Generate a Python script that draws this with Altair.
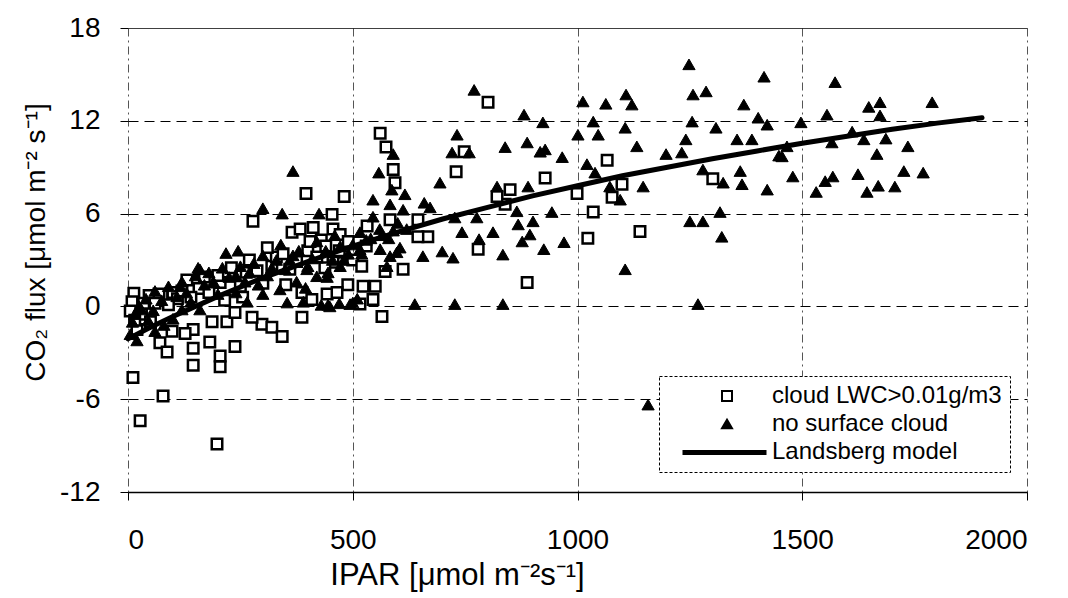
import altair as alt
import pandas as pd

S_NAME = "cloud LWC>0.01g/m3"
T_NAME = "no surface cloud"
L_NAME = "Landsberg model"

# (IPAR, CO2 flux)
cloud_points = [
    (396, 7.3), (278, 5.5), (454, 5.95), (365, 4.8), (383, 5.0), (412, 5.1), (400, 3.6), (456, 5.0),
    (351, 1.4), (387, 0.9), (409, 0.45), (443, 0.8), (263, 2.2), (287, 2.3), (205, 1.55), (131, 1.7),
    (158, 1.15), (13, 0.85), (47, 0.7), (76, 0.7), (9, 0.3), (145, -1.5), (127, -1.75), (145, -2.7),
    (145, -3.8), (182, -2.3), (187, -1.0), (220, -1.0), (205, -3.2), (205, -3.9), (238, -2.6),
    (298, -1.15), (320, -1.35), (343, -1.95), (238, -0.4), (276, -0.7), (71, -2.35), (87, -2.95),
    (98, -1.6), (11, -4.6), (387, -0.7), (78, -5.8), (27, -7.4), (198, -8.9), (69, 0.8), (100, 0.9),
    (561, 11.2), (574, 10.3), (590, 8.85), (594, 8.0), (748, 10.0), (730, 8.7), (481, 7.1), (928, 8.3),
    (850, 7.55), (839, 6.6), (821, 7.1), (779, 3.7), (888, 1.55), (565, -0.65), (532, 5.2), (667, 4.5),
    (645, 4.5), (612, 2.4), (572, 2.25), (489, 1.4), (523, 1.3), (550, 1.3), (465, 0.9), (545, 0.45),
    (516, 0.15), (456, 2.85), (583, 5.6), (645, 5.6), (472, 4.65), (438, 2.5),
    (1066, 9.45), (999, 7.3), (1077, 7.05), (1099, 7.9), (1301, 8.25), (1035, 6.1), (1139, 4.85),
    (1023, 4.4), (801, 13.2),
    (30, -0.5), (20, -1.5), (50, -1.0), (60, 0.2), (110, 0.5), (120, 1.0), (170, 1.9), (200, 2.0),
    (230, 2.5), (250, 1.3), (300, 1.5), (320, 2.6), (330, 3.2), (360, 2.4), (420, 3.2), (480, 3.5),
    (500, 3.0), (520, 2.6), (430, 4.3), (470, 3.6),
    (5, -0.3), (15, -0.9), (35, 0.2), (90, 0.1), (140, 0.6), (180, 0.9), (215, 0.4), (255, 0.6),
    (270, 3.0), (310, 3.8), (345, 3.4), (375, 2.9), (405, 4.2), (440, 3.9), (490, 4.2), (530, 3.9),
]

clear_points = [
    (1573, 14.5), (1555, 12.4), (1497, 11.9), (1648, 12.9), (1673, 13.2), (1673, 12.35), (1789, 13.2),
    (1566, 10.6), (1637, 10.8), (1686, 10.85), (1611, 11.3), (1735, 10.35), (1666, 9.85), (1479, 8.4),
    (1551, 8.1), (1568, 8.4), (1531, 7.4), (1624, 8.55), (1644, 7.4), (1669, 7.8), (1706, 7.75),
    (1726, 8.75), (1769, 8.65), (1455, 9.7), (1466, 10.35),
    (1248, 15.65), (1415, 14.85), (1257, 13.7), (1286, 13.9), (1370, 13.05), (1012, 13.25), (1063, 13.1),
    (1108, 13.7), (1121, 13.05), (923, 11.9), (1035, 11.95), (1001, 11.1), (1046, 11.1), (1106, 11.55),
    (1255, 11.95), (1308, 11.55), (1402, 12.2), (1422, 11.75),
    (1132, 10.35), (1241, 10.8), (1197, 9.85), (1232, 9.95), (1355, 10.8), (1388, 10.8), (1448, 9.75),
    (966, 9.65), (928, 10.15), (1021, 9.2), (1039, 8.65), (1279, 8.85), (1362, 8.75), (1366, 7.9),
    (1324, 8.0), (1422, 7.55), (1146, 7.75), (1072, 7.75), (1095, 6.9), (943, 6.1), (1317, 6.1),
    (1250, 5.5), (1279, 5.5), (1321, 4.5), (970, 4.15), (925, 3.7), (1106, 2.4), (1268, 0.15),
    (732, 11.1), (721, 9.95), (759, 9.95), (839, 10.3), (888, 10.6), (917, 10.0),
    (590, 9.85), (558, 8.65), (694, 8.0), (821, 7.75), (890, 7.75), (587, 7.55), (616, 7.25), (545, 6.9),
    (659, 6.7), (672, 6.4), (612, 6.25), (865, 6.15), (868, 5.3), (901, 5.5), (727, 5.75), (776, 5.75),
    (743, 4.8), (812, 4.8), (781, 4.35), (894, 4.65), (877, 4.2), (699, 3.55), (723, 3.15), (656, 3.25),
    (834, 3.35), (638, 0.15), (727, 0.15), (834, 0.15), (494, 0.15), (583, 3.25), (576, 2.6),
    (300, 6.35), (343, 6.0), (425, 6.0), (218, 3.45), (245, 3.6), (300, 3.3), (340, 4.0), (367, 3.3),
    (156, 2.5), (109, 0.65), (56, -0.25), (398, 2.4), (420, 1.95), (445, 2.2), (449, 0.0), (354, 0.25),
    (338, 1.1), (367, 8.75), (770, 14.0), (881, 12.4), (1157, -6.35),
    (583, 6.6), (545, 5.8), (516, 4.8), (472, 3.9), (516, 3.7), (561, 3.7), (443, 1.9), (472, 2.6),
    (445, 0.1), (500, 0.25), (598, 3.5), (160, 2.4), (116, 1.3),
    (10, -1.0), (30, -0.2), (40, 0.5), (60, 1.0), (90, 1.3), (120, 1.6), (150, 2.0), (180, 2.2),
    (210, 2.5), (240, 2.0), (260, 1.6), (280, 2.8), (310, 2.0), (330, 3.0), (350, 2.4), (380, 3.6),
    (400, 2.6), (420, 4.2), (440, 3.6), (460, 4.6), (480, 3.0), (500, 4.0), (520, 3.4), (540, 4.4),
    (560, 5.0), (580, 4.4), (600, 5.4), (620, 5.0), (510, 0.5), (470, 0.2), (430, 0.1), (390, 0.3),
    (300, 0.8), (200, 0.8), (140, 0.3), (20, -2.2), (60, -1.6), (100, -0.8), (160, -0.2),
    (5, -1.8), (15, -0.5), (25, 0.0), (45, -0.9), (75, 0.4), (80, -1.2), (130, 0.9), (170, 1.4),
    (190, 1.6), (225, 1.9), (250, 2.6), (270, 2.2), (290, 1.4), (320, 2.5), (360, 3.0), (375, 1.6),
    (410, 3.1), (455, 3.0), (490, 3.4), (530, 4.3), (565, 4.6), (590, 4.9), (605, 3.8), (395, 1.2),
    (240, 0.9), (265, 0.3), (120, -0.2),
]

model_x = [0, 50, 100, 200, 300, 400, 500, 600, 700, 800, 900, 1000, 1100, 1200, 1300, 1400, 1500,
           1600, 1700, 1800, 1900]
model_y = [-2.1, -1.35, -0.65, 0.65, 1.85, 2.9, 3.9, 4.8, 5.65, 6.4, 7.15, 7.8, 8.45, 9.0, 9.55,
           10.05, 10.55, 11.0, 11.45, 11.85, 12.2]

x_ticks = [0, 500, 1000, 1500, 2000]
y_ticks = [-12, -6, 0, 6, 12, 18]

FONT = "Liberation Sans"

pts = pd.DataFrame(
    [{"ipar": x, "flux": y, "series": S_NAME} for x, y in cloud_points]
    + [{"ipar": x, "flux": y, "series": T_NAME} for x, y in clear_points]
)
model = pd.DataFrame({"ipar": model_x, "flux": model_y, "series": L_NAME})

domain = [S_NAME, T_NAME, L_NAME]

leg = alt.Legend(
    title=None,
    orient="none",
    legendX=531,
    legendY=348,
    padding=8,
    fillColor="white",
    strokeColor="black",
    labelFont=FONT,
    labelFontSize=24,
    labelColor="black",
    labelOffset=33,
    labelLimit=600,
    rowPadding=4,
    symbolOffset=48,
    symbolSize=100,
    symbolStrokeWidth=2,
)

line_leg = alt.Legend(
    title=None,
    orient="none",
    legendX=552,
    legendY=380,
    padding=0,
    strokeColor="transparent",
    fillColor="transparent",
    labelOpacity=0,
    labelFontSize=2,
    labelOffset=0,
    symbolType="stroke",
    symbolSize=7056,
    symbolStrokeWidth=5,
    symbolStrokeColor="black",
)

x_enc = alt.X(
    "ipar:Q",
    scale=alt.Scale(domain=[0, 2000], nice=False),
    axis=alt.Axis(
        values=x_ticks,
        title="IPAR [μmol m⁻²s⁻¹]",
        labelExpr="'' + datum.value",
        labelFont=FONT, labelFontSize=28, labelColor="black", labelPadding=26,
        tickSize=8, tickColor="black",
        domain=True, domainColor="black", domainWidth=1.5,
        grid=True, gridDash=[8, 4, 2, 4], gridColor="#555555", gridWidth=1,
        titleFont=FONT, titleFontSize=31, titleFontWeight="normal", titleColor="black",
        titleX=329, titleY=92, titleAlign="center", titleBaseline="alphabetic",
    ),
)
y_enc = alt.Y(
    "flux:Q",
    scale=alt.Scale(domain=[-12, 18], nice=False),
    axis=alt.Axis(
        values=y_ticks,
        title="CO₂ flux [μmol m⁻² s⁻¹]",
        labelExpr="'' + datum.value",
        labelFont=FONT, labelFontSize=28, labelColor="black", labelPadding=20,
        tickSize=8, tickColor="black",
        domain=False,
        grid=True,
        gridDash={"condition": {"test": "datum.value === 18", "value": [1, 0]}, "value": [10, 6]},
        gridColor="black", gridWidth=1,
        titleFont=FONT, titleFontSize=28, titleFontWeight="normal", titleColor="black",
        titleAngle=270, titleX=-84, titleY=214, titleAlign="center", titleBaseline="alphabetic",
    ),
)

points = alt.Chart(pts).mark_point(filled=True, opacity=1).encode(
    x=x_enc,
    y=y_enc,
    shape=alt.Shape("series:N", scale=alt.Scale(domain=domain, range=["square", "triangle-up", "stroke"]), legend=leg),
    fill=alt.Fill("series:N", scale=alt.Scale(domain=domain, range=["white", "black", "transparent"]), legend=leg),
    stroke=alt.Stroke("series:N", scale=alt.Scale(domain=domain, range=["black", "black", "transparent"]), legend=leg),
    size=alt.Size("series:N", scale=alt.Scale(domain=[S_NAME, T_NAME], range=[110, 150]), legend=None),
    strokeWidth=alt.StrokeWidth("series:N", scale=alt.Scale(domain=[S_NAME, T_NAME], range=[2.5, 1]), legend=None),
)

line = alt.Chart(model).mark_line(color="black", strokeCap="round").encode(
    x="ipar:Q",
    y="flux:Q",
    strokeWidth=alt.StrokeWidth("series:N", scale=alt.Scale(domain=[L_NAME], range=[5, 5]), legend=line_leg),
)

chart = alt.layer(points, line).resolve_scale(strokeWidth="independent").resolve_legend(
    strokeWidth="independent"
).properties(
    width=899,
    height=464,
    autosize=alt.AutoSizeParams(type="none"),
    padding={"left": 128, "top": 28, "right": 41, "bottom": 106},
    background="white",
).configure_view(strokeWidth=0).configure_legend(strokeDash=[3, 2], strokeWidth=1)

chart.save("out.html", embed_options={"renderer": "svg", "actions": False})
